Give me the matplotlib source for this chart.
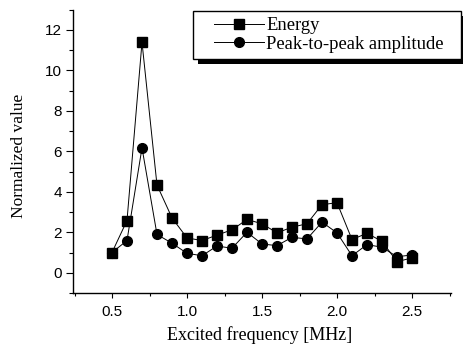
import matplotlib
matplotlib.use("Agg")
import matplotlib.pyplot as plt
from matplotlib.ticker import MultipleLocator
from matplotlib.patches import Rectangle

freq = [0.5, 0.6, 0.7, 0.8, 0.9, 1.0, 1.1, 1.2, 1.3, 1.4, 1.5,
        1.6, 1.7, 1.8, 1.9, 2.0, 2.1, 2.2, 2.3, 2.4, 2.5]
energy = [1.0, 2.58, 11.38, 4.33, 2.71, 1.72, 1.59, 1.86, 2.12, 2.63, 2.42,
          1.97, 2.25, 2.42, 3.36, 3.46, 1.64, 1.95, 1.55, 0.55, 0.73]
p2p = [1.0, 1.59, 6.17, 1.89, 1.46, 0.96, 0.84, 1.32, 1.21, 2.0, 1.42,
       1.34, 1.75, 1.67, 2.5, 1.97, 0.84, 1.39, 1.26, 0.79, 0.88]
labels = ["Energy", "Peak-to-peak amplitude"]
xlabel = "Excited frequency [MHz]"
ylabel = "Normalized value"

serif = ["Liberation Serif", "DejaVu Serif"]
sans = ["Liberation Sans", "DejaVu Sans"]

W, H = 463, 347
fig = plt.figure(figsize=(W / 100, H / 100), dpi=100)
ax = fig.add_axes([73 / W, 1 - 293 / H, (451 - 73) / W, (293 - 9.5) / H])

ax.plot(freq, energy, color="black", lw=0.7, marker="s", ms=6.5,
        mfc="black", mec="black", label=labels[0])
ax.plot(freq, p2p, color="black", lw=0.7, marker="o", ms=7,
        mfc="black", mec="black", label=labels[1])

ax.set_xlim(0.24, 2.76)
ax.set_ylim(-1, 13)
ax.xaxis.set_minor_locator(MultipleLocator(0.25))
ax.yaxis.set_major_locator(MultipleLocator(2))
ax.yaxis.set_minor_locator(MultipleLocator(1))
ax.set_xticks([0.5, 1.0, 1.5, 2.0, 2.5])
ax.set_xticklabels(["0.5", "1.0", "1.5", "2.0", "2.5"])

for s in ["top", "right"]:
    ax.spines[s].set_visible(False)
for s in ["left", "bottom"]:
    ax.spines[s].set_linewidth(1.0)

ax.tick_params(axis="y", which="major", direction="out", length=5, width=0.8, pad=3)
ax.tick_params(axis="y", which="minor", direction="out", length=3, width=0.8)
ax.tick_params(axis="x", which="major", direction="out", length=3.5, width=0.8, pad=5)
ax.tick_params(axis="x", which="minor", direction="out", length=2.5, width=0.8)
for lab in ax.get_xticklabels() + ax.get_yticklabels():
    lab.set_family(sans)
    lab.set_fontsize(11)

ax.set_xlabel(xlabel, family=serif, fontsize=13, va="center")
ax.set_ylabel(ylabel, family=serif, fontsize=12.5, va="center")
ax.xaxis.set_label_coords((260 - 73) / 378, (293 - 335) / 283.5)
ax.yaxis.set_label_coords((19 - 73) / 378, (293 - 155.5) / 283.5)

# legend frame with solid drop shadow
bx0, by0, bx1, by1 = 193, 11, 461, 59
off = 5
fig.patches.append(Rectangle(((bx0 + off) / W, 1 - (by1 + off) / H),
                             (bx1 - bx0) / W, (by1 - by0) / H,
                             transform=fig.transFigure, facecolor="black",
                             edgecolor="black", lw=0, zorder=5))
fig.patches.append(Rectangle((bx0 / W, 1 - by1 / H),
                             (bx1 - bx0) / W, (by1 - by0) / H,
                             transform=fig.transFigure, facecolor="white",
                             edgecolor="black", lw=1.0, zorder=6))

h, l = ax.get_legend_handles_labels()
leg = fig.legend(h, l, loc="center left", bbox_to_anchor=(214 / W, 1 - 35 / H),
                 borderaxespad=0, borderpad=0, frameon=False,
                 prop={"family": serif, "size": 13.4},
                 handlelength=2.66, handletextpad=0.15, labelspacing=0.1)
leg.set_zorder(7)

fig.savefig("out.png", dpi=100)
